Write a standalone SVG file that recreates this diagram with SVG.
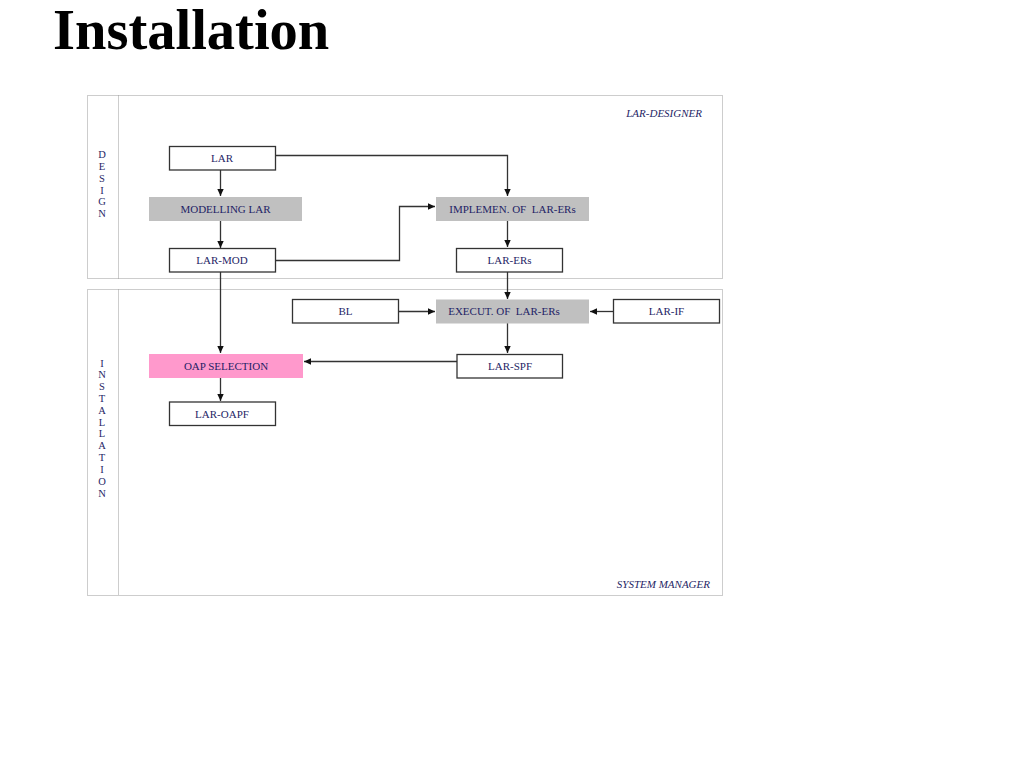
<svg xmlns="http://www.w3.org/2000/svg" width="1024" height="768" viewBox="0 0 1024 768">
<style>
.panel{fill:none;stroke:#9a9a9a;stroke-width:1;stroke-dasharray:1,1}
.box{fill:#fff;stroke:#333;stroke-width:1.3}
.gray{fill:#c0c0c0;stroke:none}
.pink{fill:#ff99cc;stroke:none}
.lbl{font-family:"Liberation Serif","Times New Roman",serif;font-size:11px;fill:#1f1f66;text-anchor:middle;white-space:pre}
.side{font-family:"Liberation Serif","Times New Roman",serif;font-size:10.5px;fill:#1f1f66;text-anchor:middle}
.ital{font-family:"Liberation Serif","Times New Roman",serif;font-size:11px;font-style:italic;fill:#1f1f66;text-anchor:end}
.conn{fill:none;stroke:#333;stroke-width:1.3}
</style>
<defs>
<marker id="ah" markerWidth="8" markerHeight="8" refX="7" refY="4" orient="auto" markerUnits="userSpaceOnUse">
<path d="M0,0.8 L7,4 L0,7.2 Z" fill="#111"/>
</marker>
</defs>
<rect width="1024" height="768" fill="#fff"/>
<text x="53" y="49" font-family="Liberation Serif,'Times New Roman',serif" font-size="56.5" font-weight="bold" fill="#000">Installation</text>

<g id="panel-design">
<rect class="panel" x="87.5" y="95.5" width="635" height="183"/>
<line class="panel" x1="118.5" y1="95.5" x2="118.5" y2="278.5"/>
<text class="ital" x="702" y="117">LAR-DESIGNER</text>
<text class="side" x="102" y="158">D</text>
<text class="side" x="102" y="170">E</text>
<text class="side" x="102" y="182">S</text>
<text class="side" x="102" y="194">I</text>
<text class="side" x="102" y="205">G</text>
<text class="side" x="102" y="217">N</text>
</g>
<g id="panel-installation">
<rect class="panel" x="87.5" y="289.5" width="635" height="306"/>
<line class="panel" x1="118.5" y1="289.5" x2="118.5" y2="595.5"/>
<text class="ital" x="710" y="588">SYSTEM MANAGER</text>
<text class="side" x="102" y="367">I</text>
<text class="side" x="102" y="378">N</text>
<text class="side" x="102" y="390">S</text>
<text class="side" x="102" y="402">T</text>
<text class="side" x="102" y="414">A</text>
<text class="side" x="102" y="426">L</text>
<text class="side" x="102" y="437">L</text>
<text class="side" x="102" y="449">A</text>
<text class="side" x="102" y="461">T</text>
<text class="side" x="102" y="473">I</text>
<text class="side" x="102" y="485">O</text>
<text class="side" x="102" y="497">N</text>
</g>

<g id="connectors">
<path class="conn" d="M220.5,170 V196" marker-end="url(#ah)"/>
<path class="conn" d="M220.5,221 V248" marker-end="url(#ah)"/>
<path class="conn" d="M275,155.5 H507.5 V196" marker-end="url(#ah)"/>
<path class="conn" d="M275,260.5 H399.5 V206.5 H435" marker-end="url(#ah)"/>
<path class="conn" d="M507.5,221 V247" marker-end="url(#ah)"/>
<path class="conn" d="M507.5,272 V299" marker-end="url(#ah)"/>
<path class="conn" d="M398,311.5 H435" marker-end="url(#ah)"/>
<path class="conn" d="M613,311.5 H590" marker-end="url(#ah)"/>
<path class="conn" d="M507.5,323 V353" marker-end="url(#ah)"/>
<path class="conn" d="M457,361.5 H304" marker-end="url(#ah)"/>
<path class="conn" d="M220.5,272 V353" marker-end="url(#ah)"/>
<path class="conn" d="M220.5,378 V401" marker-end="url(#ah)"/>
</g>

<g id="node-lar"><rect class="box" x="169.5" y="146.5" width="106" height="23.5"/><text class="lbl" x="222" y="162">LAR</text></g>
<g id="node-modelling"><rect class="gray" x="149" y="197" width="153" height="24"/><text class="lbl" x="225.5" y="213">MODELLING LAR</text></g>
<g id="node-larmod"><rect class="box" x="169.5" y="248.5" width="106" height="23.5"/><text class="lbl" x="222" y="264">LAR-MOD</text></g>
<g id="node-implemen"><rect class="gray" x="436" y="197" width="153" height="24"/><text class="lbl" x="512.5" y="213">IMPLEMEN. OF  LAR-ERs</text></g>
<g id="node-larers"><rect class="box" x="456.5" y="248.5" width="106" height="23.5"/><text class="lbl" x="509.5" y="264">LAR-ERs</text></g>
<g id="node-bl"><rect class="box" x="292.5" y="299.5" width="106" height="23.5"/><text class="lbl" x="345.5" y="315">BL</text></g>
<g id="node-execut"><rect class="gray" x="436" y="299.5" width="153" height="24"/><text class="lbl" x="504" y="315">EXECUT. OF  LAR-ERs</text></g>
<g id="node-larif"><rect class="box" x="613.5" y="299.5" width="106" height="23.5"/><text class="lbl" x="666.5" y="315">LAR-IF</text></g>
<g id="node-oap"><rect class="pink" x="149" y="354" width="154" height="24"/><text class="lbl" x="226" y="370">OAP SELECTION</text></g>
<g id="node-larspf"><rect class="box" x="457" y="354.5" width="105.5" height="23.5"/><text class="lbl" x="510" y="370">LAR-SPF</text></g>
<g id="node-laroapf"><rect class="box" x="169.5" y="402" width="106" height="23.5"/><text class="lbl" x="222" y="418">LAR-OAPF</text></g>
</svg>
